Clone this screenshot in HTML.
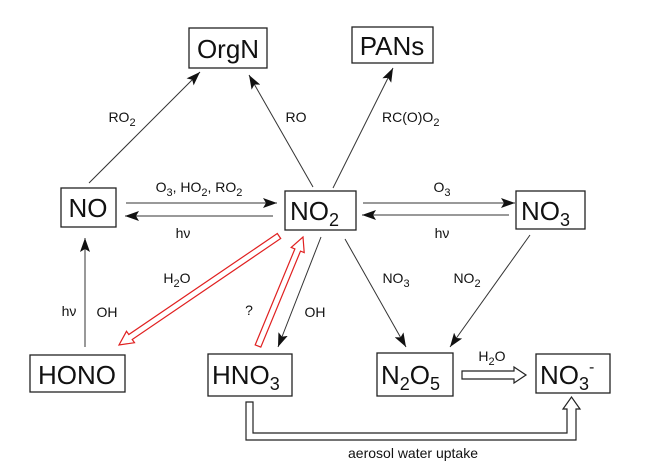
<!DOCTYPE html>
<html><head><meta charset="utf-8"><style>
html,body{margin:0;padding:0;background:#fff;}
svg{display:block;}
svg text{font-family:"Liberation Sans",Arial,Helvetica,sans-serif;}
.b{fill:#fff;stroke:#222;stroke-width:1.3;}
.l{stroke:#333;stroke-width:1;fill:none;}
.big{font-size:26px;fill:#111;}
.lab{font-size:14px;fill:#111;}
</style></head><body>
<svg width="650" height="468" viewBox="0 0 650 468" xmlns="http://www.w3.org/2000/svg" font-family="Liberation Sans, Arial, sans-serif">
<defs>
<marker id="a" viewBox="0 0 14 10" refX="14" refY="5" markerWidth="14" markerHeight="10" markerUnits="userSpaceOnUse" orient="auto">
<path d="M0,0 L14,5 L0,10 L3,5 z" fill="#111"/></marker>
</defs>
<rect class="b" x="189" y="28" width="78" height="40"/>
<text class="big" font-family="Liberation Sans, sans-serif" x="228" y="58" text-anchor="middle">OrgN</text>
<rect class="b" x="352" y="27" width="81" height="36"/>
<text class="big" font-family="Liberation Sans, sans-serif" x="392" y="55" text-anchor="middle">PANs</text>
<rect class="b" x="61" y="188" width="55" height="39"/>
<text class="big" font-family="Liberation Sans, sans-serif" x="88" y="217" text-anchor="middle">NO</text>
<rect class="b" x="285" y="191" width="71" height="39"/>
<text class="big" font-family="Liberation Sans, sans-serif" x="290" y="220">NO<tspan font-size="18" dy="6">2</tspan></text>
<rect class="b" x="516" y="191" width="69" height="38"/>
<text class="big" font-family="Liberation Sans, sans-serif" x="521" y="220">NO<tspan font-size="18" dy="6">3</tspan></text>
<rect class="b" x="30" y="355" width="95" height="37"/>
<text class="big" font-family="Liberation Sans, sans-serif" x="77" y="384" text-anchor="middle">HONO</text>
<rect class="b" x="208" y="354" width="84" height="42"/>
<text class="big" font-family="Liberation Sans, sans-serif" x="212" y="384">HNO<tspan font-size="18" dy="6">3</tspan></text>
<rect class="b" x="377" y="353" width="76" height="43"/>
<text class="big" font-family="Liberation Sans, sans-serif" x="381" y="384">N<tspan font-size="18" dy="6">2</tspan><tspan dy="-6">O</tspan><tspan font-size="18" dy="6">5</tspan></text>
<rect class="b" x="536" y="354" width="74" height="39"/>
<text class="big" font-family="Liberation Sans, sans-serif" x="540" y="384">NO<tspan font-size="18" dy="6">3</tspan><tspan font-size="16" dy="-18">-</tspan></text>
<line class="l" x1="89" y1="183" x2="200" y2="72" marker-end="url(#a)"/>
<line class="l" x1="313" y1="187" x2="249" y2="75" marker-end="url(#a)"/>
<line class="l" x1="333" y1="188" x2="393" y2="68" marker-end="url(#a)"/>
<line class="l" x1="126" y1="203" x2="277" y2="203" marker-end="url(#a)"/>
<line class="l" x1="273" y1="216" x2="125" y2="216" marker-end="url(#a)"/>
<line class="l" x1="363" y1="203" x2="515" y2="203" marker-end="url(#a)"/>
<line class="l" x1="509" y1="215" x2="362" y2="215" marker-end="url(#a)"/>
<line class="l" x1="85" y1="347" x2="85" y2="238" marker-end="url(#a)"/>
<line class="l" x1="321" y1="237" x2="278" y2="347" marker-end="url(#a)"/>
<line class="l" x1="345" y1="239" x2="406" y2="347" marker-end="url(#a)"/>
<line class="l" x1="530" y1="235" x2="450" y2="347" marker-end="url(#a)"/>
<polygon points="277.3,233.5 128.8,334.5 126.5,331.3 119,345 134.5,342.7 132.2,339.5 280.7,238.5" fill="#fff" stroke="#e02020" stroke-width="1.2"/>
<polygon points="255.2,344.9 294.9,248.9 291.2,247.4 303,237 304.2,252.6 300.5,251.1 260.8,347.1" fill="#fff" stroke="#e02020" stroke-width="1.2"/>
<polygon points="462,371 514,371 514,367 526,375 514,383 514,379 462,379" fill="#fff" stroke="#222" stroke-width="1.2"/>
<polygon points="246,402 246,440 576,440 576,409 580,409 571.5,397 563,409 567,409 567,433 253,433 253,402" fill="#fff" stroke="#222" stroke-width="1.2"/>
<g font-family="Liberation Sans, sans-serif">
<text class="lab" x="122" y="122" text-anchor="middle">RO<tspan font-size="11" dy="4">2</tspan></text>
<text class="lab" x="296" y="122" text-anchor="middle">RO</text>
<text class="lab" x="382" y="122">RC(O)O<tspan font-size="11" dy="4">2</tspan></text>
<text class="lab" x="199" y="192" text-anchor="middle">O<tspan font-size="11" dy="4">3</tspan><tspan dy="-4">, HO</tspan><tspan font-size="11" dy="4">2</tspan><tspan dy="-4">, RO</tspan><tspan font-size="11" dy="4">2</tspan></text>
<text class="lab" x="183" y="238" text-anchor="middle">hν</text>
<text class="lab" x="442" y="192" text-anchor="middle">O<tspan font-size="11" dy="4">3</tspan></text>
<text class="lab" x="442" y="238" text-anchor="middle">hν</text>
<text class="lab" x="177" y="283" text-anchor="middle">H<tspan font-size="11" dy="4">2</tspan><tspan dy="-4">O</tspan></text>
<text class="lab" x="69" y="316" text-anchor="middle">hν</text>
<text class="lab" x="107" y="317" text-anchor="middle">OH</text>
<text class="lab" x="249" y="315" text-anchor="middle">?</text>
<text class="lab" x="315" y="317" text-anchor="middle">OH</text>
<text class="lab" x="396" y="283" text-anchor="middle">NO<tspan font-size="11" dy="4">3</tspan></text>
<text class="lab" x="467" y="283" text-anchor="middle">NO<tspan font-size="11" dy="4">2</tspan></text>
<text class="lab" x="492" y="361" text-anchor="middle">H<tspan font-size="11" dy="4">2</tspan><tspan dy="-4">O</tspan></text>
<text class="lab" x="413" y="458" text-anchor="middle">aerosol water uptake</text>
</g>
</svg>
</body></html>
